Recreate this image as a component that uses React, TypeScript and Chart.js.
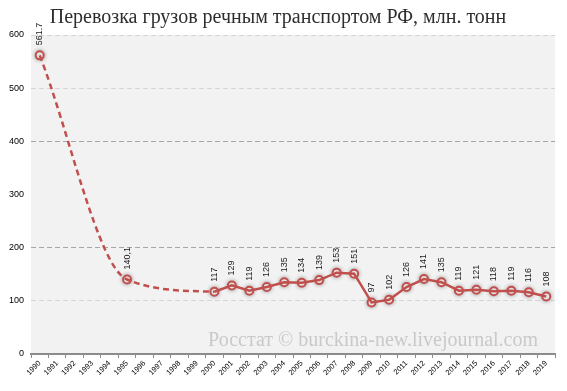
import React, { useEffect, useRef } from 'react';
import { Chart, registerables } from 'chart.js';

Chart.register(...registerables);

const TITLE = 'Перевозка грузов речным транспортом РФ, млн. тонн';
const SOURCE = 'Росстат © burckina-new.livejournal.com';

const years = [
  '1990', '1991', '1992', '1993', '1994', '1995', '1996', '1997', '1998', '1999',
  '2000', '2001', '2002', '2003', '2004', '2005', '2006', '2007', '2008', '2009',
  '2010', '2011', '2012', '2013', '2014', '2015', '2016', '2017', '2018', '2019',
];

// sparse early data (dashed, smoothed)
const earlyYears = ['1990', '1995', '2000'];
const earlyValues = [561.7, 140.1, 117];
const earlyLabels = ['561.7', '140,1', ''];

// yearly data since 2000 (solid)
const lateYears = [
  '2000', '2001', '2002', '2003', '2004', '2005', '2006', '2007', '2008', '2009',
  '2010', '2011', '2012', '2013', '2014', '2015', '2016', '2017', '2018', '2019',
];
const lateValues = [117, 129, 119, 126, 135, 134, 139, 153, 151, 97, 102, 126, 141, 135, 119, 121, 118, 119, 116, 108];

const yTickValues = [0, 100, 200, 300, 400, 500, 600];

const RED = '#c0504d';

const decorPlugin = {
  id: 'decor',
  beforeDraw(chart: any) {
    const { ctx, chartArea: a } = chart;
    ctx.save();
    ctx.fillStyle = '#f2f2f2';
    ctx.fillRect(a.left, a.top, a.right - a.left, a.bottom - a.top);
    ctx.restore();
  },
  beforeDatasetsDraw(chart: any) {
    const { ctx, chartArea: a } = chart;
    ctx.save();
    ctx.fillStyle = '#c9c9c9';
    ctx.font = '20px "Liberation Serif", serif';
    ctx.textAlign = 'right';
    ctx.textBaseline = 'alphabetic';
    ctx.fillText(SOURCE, a.right - 17, a.bottom - 8);
    ctx.restore();
  },
  beforeDatasetDraw(chart: any, args: any) {
    const ds = chart.data.datasets[args.index];
    if (ds.isMarkers) {
      const ctx = chart.ctx;
      ctx.save();
      ctx.shadowColor = 'rgba(0,0,0,0.3)';
      ctx.shadowBlur = 4;
    }
  },
  afterDatasetDraw(chart: any, args: any) {
    const ds = chart.data.datasets[args.index];
    if (ds.isMarkers) chart.ctx.restore();
  },
  afterDatasetsDraw(chart: any) {
    const { ctx } = chart;
    ctx.save();
    ctx.fillStyle = '#1a1a1a';
    ctx.font = '9px "Liberation Sans", sans-serif';
    ctx.textAlign = 'left';
    ctx.textBaseline = 'middle';
    chart.data.datasets.forEach((ds: any, di: number) => {
      if (!ds.valueLabels) return;
      const meta = chart.getDatasetMeta(di);
      meta.data.forEach((pt: any, i: number) => {
        const txt = ds.valueLabels[i];
        if (!txt) return;
        ctx.save();
        ctx.translate(pt.x, pt.y - 10);
        ctx.rotate(-Math.PI / 2);
        ctx.fillText(txt, 0, 0);
        ctx.restore();
      });
    });
    ctx.restore();
  },
  afterDraw(chart: any) {
    const { ctx } = chart;
    ctx.save();
    ctx.fillStyle = '#2e2e2e';
    ctx.font = '20px "Liberation Serif", serif';
    ctx.textAlign = 'center';
    ctx.textBaseline = 'alphabetic';
    ctx.fillText(TITLE, 278, 23);
    ctx.restore();
  },
};

export default function App() {
  const ref = useRef<HTMLCanvasElement | null>(null);

  useEffect(() => {
    document.body.style.margin = '0';
    if (!ref.current) return;

    const earlyData = earlyYears.map((x, i) => ({ x, y: earlyValues[i] }));
    const lateData = lateYears.map((x, i) => ({ x, y: lateValues[i] }));
    const markerData = [...earlyData.slice(0, 2), ...lateData];
    const markerLabels = [...earlyLabels.slice(0, 2), ...lateValues.map((v) => String(v))];

    const chart = new Chart(ref.current, {
      type: 'line',
      data: {
        labels: years,
        datasets: [
          {
            data: earlyData,
            borderColor: RED,
            borderWidth: 2.5,
            borderDash: [6, 4],
            cubicInterpolationMode: 'monotone',
            tension: 0.4,
            pointRadius: 0,
            fill: false,
          } as any,
          {
            data: lateData,
            borderColor: RED,
            borderWidth: 2.5,
            tension: 0,
            pointRadius: 0,
            fill: false,
          } as any,
          {
            data: markerData,
            isMarkers: true,
            valueLabels: markerLabels,
            showLine: false,
            pointRadius: 4,
            pointBorderWidth: 2,
            pointBackgroundColor: '#ffffff',
            pointBorderColor: RED,
          } as any,
        ],
      },
      options: {
        animation: false,
        responsive: false,
        maintainAspectRatio: false,
        layout: { padding: { top: 35, right: 12, left: 0, bottom: 0 } },
        plugins: {
          legend: { display: false },
          tooltip: { enabled: false },
          title: { display: false },
        },
        scales: {
          x: {
            type: 'category',
            offset: true,
            afterFit: (s: any) => { s.height = 37; },
            grid: {
              offset: true,
              drawOnChartArea: false,
              drawTicks: true,
              tickLength: 4,
              tickColor: '#8c8c8c',
              tickWidth: 1,
            },
            border: { display: true, color: '#8c8c8c', width: 2 },
            ticks: {
              autoSkip: false,
              minRotation: 45,
              maxRotation: 45,
              padding: 1,
              color: '#000000',
              font: { size: 7.5, family: '"Liberation Sans", sans-serif' },
            },
          },
          y: {
            min: 0,
            max: 600,
            afterFit: (s: any) => { s.width = 31; },
            afterBuildTicks: (s: any) => { s.ticks = yTickValues.map((v) => ({ value: v })); },
            grid: {
              drawTicks: false,
              lineWidth: 1,
              color: (c: any) => {
                const v = c.tick ? c.tick.value : -1;
                if (v === 200 || v === 400) return '#a6a6a6';
                if (v === 100 || v === 500 || v === 600) return '#d4d4d4';
                return 'rgba(0,0,0,0)';
              },
            },
            border: { display: false, dash: [5, 3] },
            ticks: {
              padding: 7,
              color: '#000000',
              font: { size: 9, family: '"Liberation Sans", sans-serif' },
            },
          },
        },
      },
      plugins: [decorPlugin],
    });

    return () => chart.destroy();
  }, []);

  return (
    <div style={{ width: 567, height: 391, background: '#ffffff' }}>
      <canvas ref={ref} width={567} height={391} style={{ display: 'block', width: 567, height: 391 }} />
    </div>
  );
}
